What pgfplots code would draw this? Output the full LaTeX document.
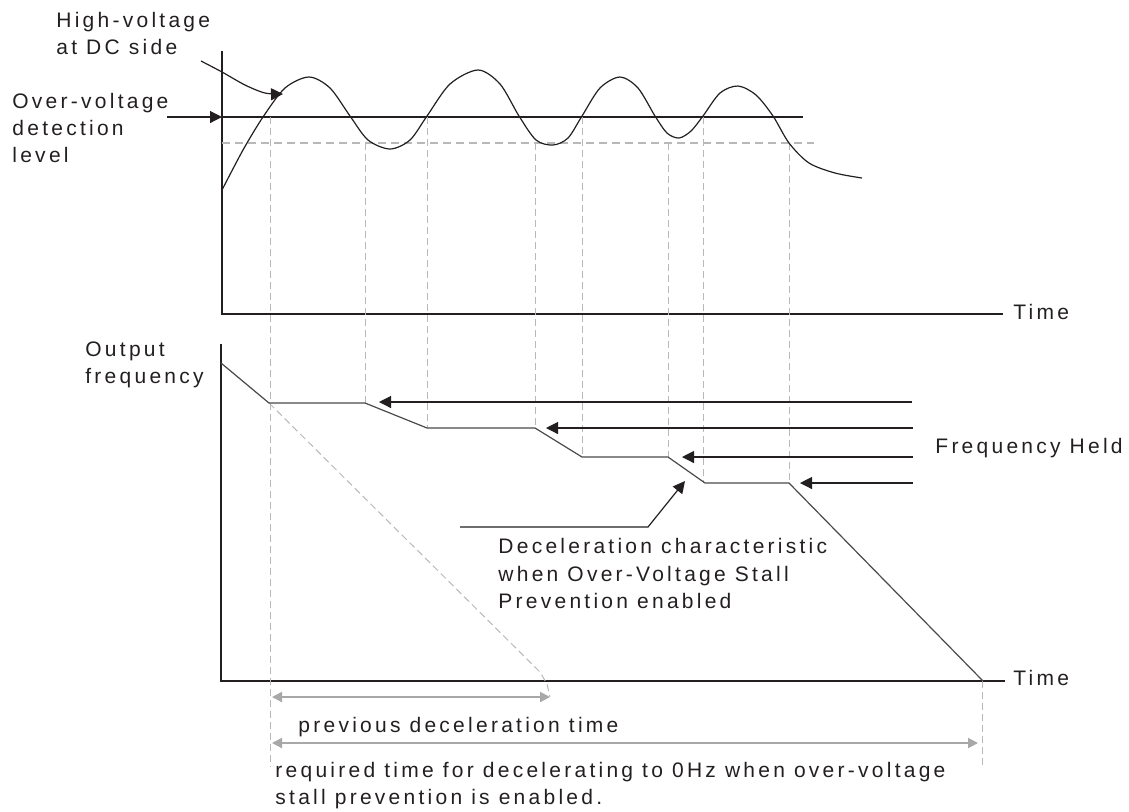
\documentclass[border=0pt]{standalone}
\usepackage{pgfplots}
\pgfplotsset{compat=1.18}
\usetikzlibrary{arrows.meta}
\usepackage{fontspec}
\setmainfont{Liberation Sans}[LetterSpace=15.5]
\definecolor{ink}{HTML}{231F20}
\definecolor{lgrey}{HTML}{B8B8B8}
\definecolor{agrey}{HTML}{A8A8A8}
\definecolor{fline}{HTML}{4A4A4A}
\tikzset{txt/.style={inner sep=0pt, anchor=base west, text=ink, font=\fontsize{10.5}{13}\selectfont}}
\begin{document}
\begin{tikzpicture}
\begin{axis}[
  width=564.5pt, height=405.5pt, scale only axis,
  xmin=0, xmax=1129, ymin=0, ymax=811, y dir=reverse,
  hide axis, clip=false,
]
% axes frames
\addplot[ink, line width=1pt] coordinates {(222,51) (222,314) (1003,314)};
\addplot[ink, line width=1pt] coordinates {(221,344) (221,681) (1005,681)};
% level lines
\addplot[ink, line width=0.6pt] coordinates {(222,117) (803,117)};
\addplot[lgrey, line width=0.6pt, dash pattern=on 4pt off 2.5pt] coordinates {(222,143) (814,143)};
% vertical dashed guides
\addplot[lgrey, line width=0.5pt, dash pattern=on 3.5pt off 2pt] coordinates {(270,117) (270,767)};
\addplot[lgrey, line width=0.5pt, dash pattern=on 3.5pt off 2pt] coordinates {(365,143) (365,403)};
\addplot[lgrey, line width=0.5pt, dash pattern=on 3.5pt off 2pt] coordinates {(427,117) (427,428)};
\addplot[lgrey, line width=0.5pt, dash pattern=on 3.5pt off 2pt] coordinates {(535,143) (535,428)};
\addplot[lgrey, line width=0.5pt, dash pattern=on 3.5pt off 2pt] coordinates {(582,117) (582,457)};
\addplot[lgrey, line width=0.5pt, dash pattern=on 3.5pt off 2pt] coordinates {(668,143) (668,457)};
\addplot[lgrey, line width=0.5pt, dash pattern=on 3.5pt off 2pt] coordinates {(703,117) (703,483)};
\addplot[lgrey, line width=0.5pt, dash pattern=on 3.5pt off 2pt] coordinates {(789,143) (789,483)};
\addplot[lgrey, line width=0.5pt, dash pattern=on 3.5pt off 2pt] coordinates {(982,681) (982,765)};
% previous deceleration (dashed diagonal)
\addplot[lgrey, line width=0.5pt, dash pattern=on 3.5pt off 2pt] coordinates {(269,403) (540,672) (547,684) (550,697)};
% DC voltage curve
\addplot[ink, line width=0.6pt, smooth] coordinates {
(222,190) (243,150) (263,117) (285,88) (309,77) (330,88) (350,116) (368,140)
(390,149) (410,140) (427,116) (450,84) (478,70) (500,84) (519,116) (536,140)
(553,145) (568,138) (582,116) (600,88) (620,77) (638,88) (655,116) (667,133)
(679,138) (691,131) (703,116) (720,93) (738,86) (756,95) (773,116) (789,143)
(809,163) (835,173) (862,178)};
% output frequency
\addplot[fline, line width=0.6pt] coordinates {(221,363) (269,403) (365,403) (427,428) (535,428) (582,457) (668,457) (705,483) (789,483) (983,681)};
% arrows
\addplot[ink, line width=0.6pt, smooth, -{Triangle[length=6pt,width=6pt]}] coordinates {(201,61) (222,72) (245,85) (265,93) (283,94)};
\addplot[ink, line width=0.6pt, -{Triangle[length=6pt,width=6pt]}] coordinates {(167,117) (222,117)};
\addplot[ink, line width=0.6pt, -{Triangle[length=6pt,width=6pt]}] coordinates {(912,402) (379,402)};
\addplot[ink, line width=0.6pt, -{Triangle[length=6pt,width=6pt]}] coordinates {(913,428) (546,428)};
\addplot[ink, line width=0.6pt, -{Triangle[length=6pt,width=6pt]}] coordinates {(913,457) (682,457)};
\addplot[ink, line width=0.6pt, -{Triangle[length=6pt,width=6pt]}] coordinates {(913,483) (800,483)};
\addplot[ink, line width=0.6pt, -{Triangle[length=6pt,width=6pt]}] coordinates {(460,527) (648,527) (685,481)};
\addplot[agrey, line width=1pt, {Triangle[length=5pt,width=5pt]}-{Triangle[length=5pt,width=5pt]}] coordinates {(272,697) (550,697)};
\addplot[agrey, line width=1pt, {Triangle[length=5pt,width=5pt]}-{Triangle[length=5pt,width=5pt]}] coordinates {(272,743) (978,743)};
% texts
\node[txt] at (axis cs:56,27) {High-voltage};
\node[txt] at (axis cs:56,54) {at DC side};
\node[txt] at (axis cs:12,108) {Over-voltage};
\node[txt] at (axis cs:12,135) {detection};
\node[txt] at (axis cs:12,162) {level};
\node[txt] at (axis cs:1013,319) {Time};
\node[txt] at (axis cs:85,356) {Output};
\node[txt] at (axis cs:85,383) {frequency};
\node[txt] at (axis cs:935,453) {Frequency Held};
\node[txt] at (axis cs:498,553) {Deceleration characteristic};
\node[txt] at (axis cs:498,581) {when Over-Voltage Stall};
\node[txt] at (axis cs:498,608) {Prevention enabled};
\node[txt] at (axis cs:1013,685) {Time};
\node[txt] at (axis cs:298,732) {previous deceleration time};
\node[txt] at (axis cs:275,777) {required time for decelerating to 0Hz when over-voltage};
\node[txt] at (axis cs:275,804) {stall prevention is enabled.};
\end{axis}
\pgfresetboundingbox
\path (0,0) rectangle (564.5pt,405.5pt);
\end{tikzpicture}
\end{document}
